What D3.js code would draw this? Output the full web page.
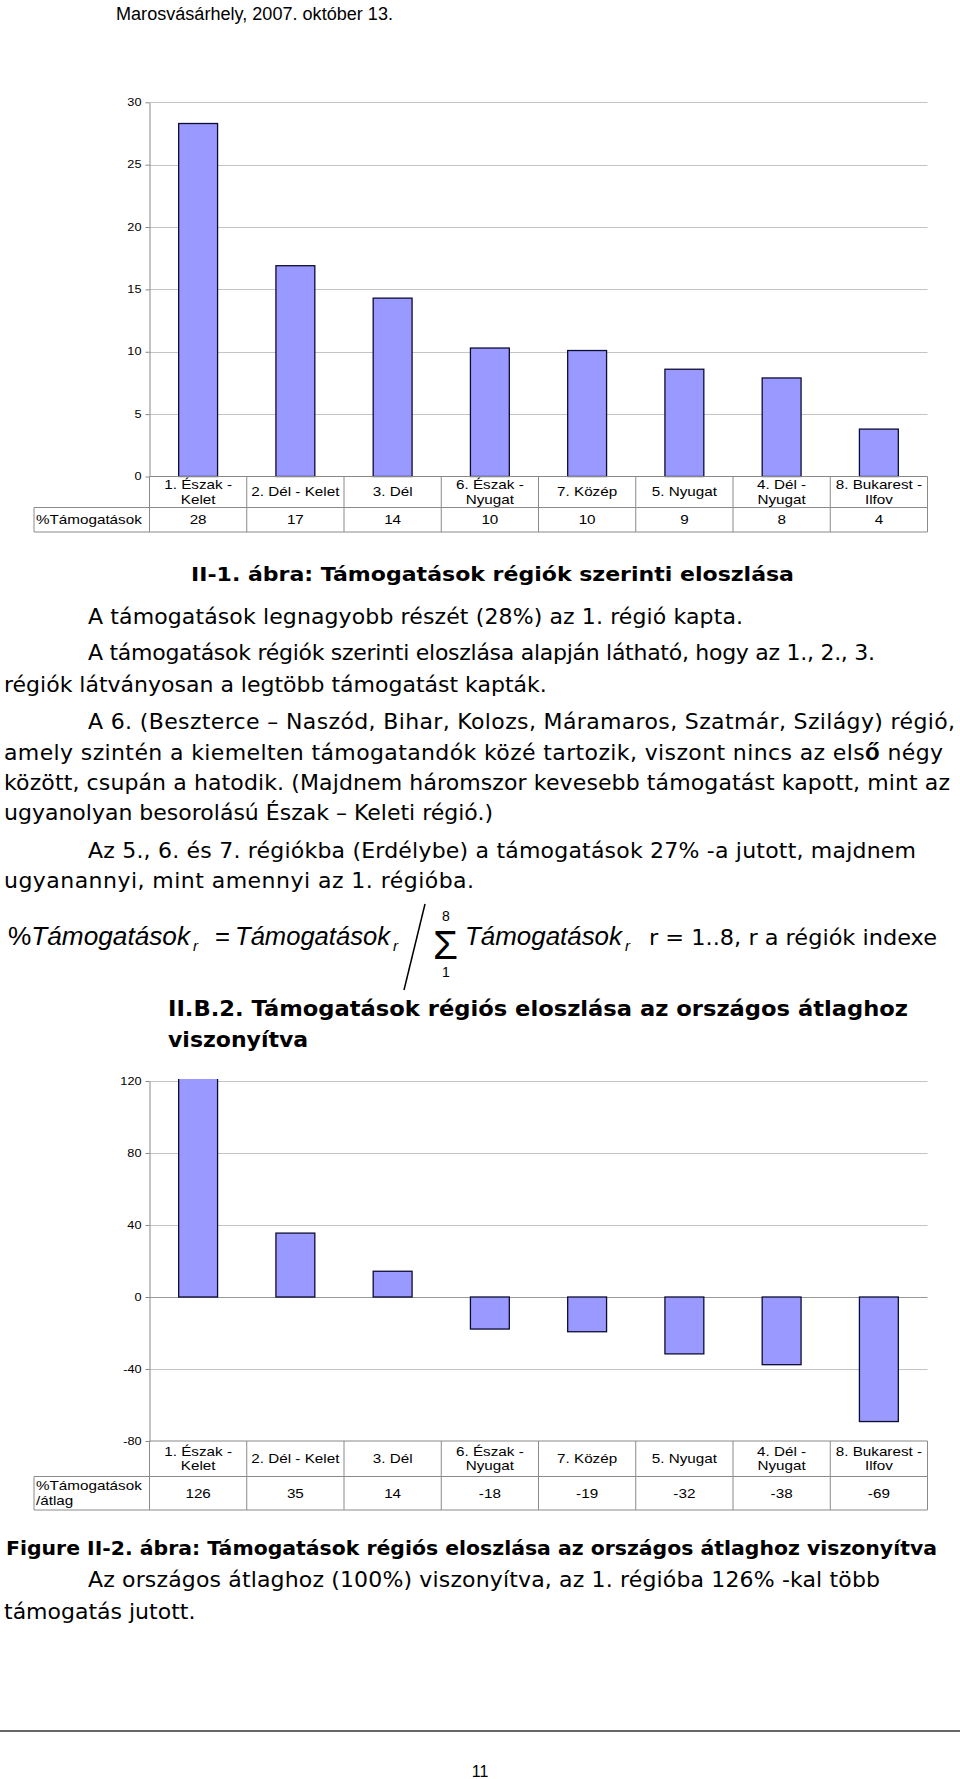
<!DOCTYPE html>
<html><head><meta charset="utf-8">
<script src="https://cdn.jsdelivr.net/npm/d3@7"></script>
<style>body{margin:0;background:#fff}svg{display:block}</style>
</head><body><div id="page"></div>
<script>
// ---------- data ----------
const categories = ["1. Észak - Kelet","2. Dél - Kelet","3. Dél","6. Észak - Nyugat","7. Közép","5. Nyugat","4. Dél - Nyugat","8. Bukarest - Ilfov"];
const categoryLines = [["1. Észak -","Kelet"],["2. Dél - Kelet"],["3. Dél"],["6. Észak -","Nyugat"],["7. Közép"],["5. Nyugat"],["4. Dél -","Nyugat"],["8. Bukarest -","Ilfov"]];
const shareValues = [28.3,16.9,14.3,10.3,10.1,8.6,7.9,3.8];
const shareLabels = ["28","17","14","10","10","9","8","4"];
const shareTicks = [0,5,10,15,20,25,30];
const shareSeries = ["%Támogatások"];
const relValues = [126,35.5,14.3,-17.8,-19.3,-31.6,-37.6,-69.2];
const relLabels = ["126","35","14","-18","-19","-32","-38","-69"];
const relTicks = [-80,-40,0,40,80,120];
const relSeries = ["%Támogatások","/átlag"];

// ---------- page ----------
const W = 960, H = 1779;
const svg = d3.select("#page").append("svg").attr("width", W).attr("height", H);
svg.append("rect").attr("width", W).attr("height", H).attr("fill", "#fff");

const SANS = "'Liberation Sans', Arial, sans-serif";
const BODY = "'DejaVu Sans', Verdana, sans-serif";
const STRETCH = 1.27;

function line(t, x, y, end, opts) {
  opts = opts || {};
  const el = svg.append("text").attr("x", x).attr("y", y)
    .attr("font-family", opts.family || BODY)
    .attr("font-size", opts.size || 22)
    .attr("font-weight", opts.weight || "normal")
    .attr("font-style", opts.italic ? "italic" : "normal")
    .attr("fill", "#000").text(t);
  if (end) el.attr("textLength", end - x).attr("lengthAdjust", opts.adjust || "spacingAndGlyphs");
  return el;
}
const SP = {adjust: "spacing"};

// header
line("Marosvásárhely, 2007. október 13.", 116, 20, 393, {family: SANS, size: 18});

// ---------- chart builder ----------
function drawChart(cfg) {
  const g = svg.append("g");
  const x = d3.scaleBand().domain(categories).range([149.5, 927.5]).paddingInner(0.6).paddingOuter(0.3);
  const step = x.step();
  const y = d3.scaleLinear().domain(cfg.domain).range(cfg.range);
  const axisY = y(cfg.domain[0]);

  // gridlines
  g.selectAll("line.grid").data(cfg.ticks.filter(t => t !== cfg.domain[0])).join("line")
    .attr("x1", 149.5).attr("x2", 927.5)
    .attr("y1", d => Math.round(y(d)) + 0.5).attr("y2", d => Math.round(y(d)) + 0.5)
    .attr("stroke", d => d === 0 ? "#999" : "#c4c4c4").attr("stroke-width", 1);

  // bars
  const clipId = "clip" + cfg.id;
  svg.append("clipPath").attr("id", clipId).append("rect")
    .attr("x", 0).attr("y", y(cfg.domain[1]) - 2).attr("width", W).attr("height", H);
  g.append("g").attr("clip-path", `url(#${clipId})`)
    .selectAll("rect").data(cfg.values).join("rect")
    .attr("x", (d, i) => x(categories[i]))
    .attr("width", x.bandwidth())
    .attr("y", d => Math.min(y(d), y(0)))
    .attr("height", d => Math.abs(y(d) - y(0)))
    .attr("fill", "#9999ff").attr("stroke", "#0d0d33").attr("stroke-width", 1.3);

  // y axis
  const ax = g.append("g").attr("transform", "translate(149.5,0)")
    .call(d3.axisLeft(y).tickValues(cfg.ticks).tickFormat(d => String(d)).tickSize(4).tickSizeOuter(0).tickPadding(4));
  ax.select(".domain").attr("stroke", "#888");
  ax.selectAll(".tick line").attr("stroke", "#888");
  ax.selectAll(".tick text").attr("font-family", SANS).attr("font-size", 10).attr("fill", "#000")
    .attr("transform", `translate(-8,0) scale(${STRETCH},1) translate(8,0)`);

  // table
  const rowTop = axisY, rowMid = axisY + cfg.catH, rowBot = rowMid + cfg.dataH;
  const tl = "#8a8a8a";
  g.append("line").attr("x1", 149.5).attr("x2", 927.5).attr("y1", rowTop).attr("y2", rowTop).attr("stroke", "#888");
  g.append("line").attr("x1", 34).attr("x2", 927.5).attr("y1", rowMid).attr("y2", rowMid).attr("stroke", tl);
  g.append("line").attr("x1", 34).attr("x2", 927.5).attr("y1", rowBot).attr("y2", rowBot).attr("stroke", tl);
  g.append("line").attr("x1", 34).attr("x2", 34).attr("y1", rowMid).attr("y2", rowBot).attr("stroke", tl);
  g.selectAll("line.col").data(d3.range(categories.length + 1)).join("line")
    .attr("x1", i => 149.5 + i * step).attr("x2", i => 149.5 + i * step)
    .attr("y1", rowTop).attr("y2", rowBot).attr("stroke", tl);

  function stext(t, cx, by, anchor) {
    return g.append("text").attr("transform", `translate(${cx},${by}) scale(${STRETCH},1)`)
      .attr("text-anchor", anchor || "middle").attr("font-family", SANS).attr("font-size", 12)
      .attr("fill", "#000").text(t);
  }
  categoryLines.forEach((ls, i) => {
    const cx = x(categories[i]) + x.bandwidth() / 2;
    const mid = (rowTop + rowMid) / 2;
    const lh = 14.5;
    ls.forEach((s, j) => stext(s, cx, mid + 4.3 + (j - (ls.length - 1) / 2) * lh));
    stext(cfg.labels[i], cx, (rowMid + rowBot) / 2 + 4.3);
  });
  const sl = cfg.series;
  sl.forEach((s, j) => stext(s, 36, (rowMid + rowBot) / 2 + 4.3 + (j - (sl.length - 1) / 2) * 14.5, "start"));
}

drawChart({id: 1, values: shareValues, labels: shareLabels, ticks: shareTicks, series: shareSeries,
  domain: [0, 30], range: [476.5, 102.3], catH: 31, dataH: 24.5});

// ---------- text block 1 ----------
line("II-1. ábra: Támogatások régiók szerinti eloszlása", 191, 581, 794, {weight: "bold", size: 19});
line("A támogatások legnagyobb részét (28%) az 1. régió kapta.", 88, 624, 743, SP);
line("A támogatások régiók szerinti eloszlása alapján látható, hogy az 1., 2., 3.", 88, 660, 875, SP);
line("régiók látványosan a legtöbb támogatást kapták.", 4, 692);
line("A 6. (Beszterce – Naszód, Bihar, Kolozs, Máramaros, Szatmár, Szilágy) régió,", 88, 729, 955, SP);
const l5 = line("amely szintén a kiemelten támogatandók közé tartozik, viszont nincs az els", 4, 760);
l5.append("tspan").attr("font-family", SANS).attr("font-weight", "bold").attr("font-size", 24).text("ő");
l5.append("tspan").text(" négy");
l5.attr("textLength", 939).attr("lengthAdjust", "spacing");
line("között, csupán a hatodik. (Majdnem háromszor kevesebb támogatást kapott, mint az", 4, 790, 950, SP);
line("ugyanolyan besorolású Észak – Keleti régió.)", 4, 820);
line("Az 5., 6. és 7. régiókba (Erdélybe) a támogatások 27% -a jutott, majdnem", 88, 858, 916, SP);
line("ugyanannyi, mint amennyi az 1. régióba.", 4, 888, 474, SP);

// ---------- formula ----------
const fy = 945;
const f1 = svg.append("text").attr("x", 8).attr("y", fy).attr("font-family", SANS).attr("font-size", 26)
  .attr("textLength", 182).attr("lengthAdjust", "spacingAndGlyphs");
f1.append("tspan").text("%");
f1.append("tspan").attr("font-style", "italic").text("Támogatások");
line("r", 193, fy + 6, null, {family: SANS, size: 15, italic: true});
line("=", 215, fy, 230, {family: SANS, size: 26});
line("Támogatások", 235, fy, 390, {family: SANS, size: 26, italic: true});
line("r", 393, fy + 6, null, {family: SANS, size: 15, italic: true});
svg.append("line").attr("x1", 425).attr("y1", 904).attr("x2", 404).attr("y2", 990).attr("stroke", "#000").attr("stroke-width", 1.5);
line("Σ", 433, 959, 458, {family: SANS, size: 40});
svg.append("text").attr("x", 446).attr("y", 921).attr("text-anchor", "middle").attr("font-family", SANS).attr("font-size", 14).text("8");
svg.append("text").attr("x", 446).attr("y", 977).attr("text-anchor", "middle").attr("font-family", SANS).attr("font-size", 14).text("1");
line("Támogatások", 465, fy, 622, {family: SANS, size: 26, italic: true});
line("r", 625, fy + 6, null, {family: SANS, size: 15, italic: true});
line("r = 1..8, r a régiók indexe", 649, fy, 937);

// ---------- second title ----------
line("II.B.2. Támogatások régiós eloszlása az országos átlaghoz", 168, 1016, 908, {weight: "bold", size: 22});
line("viszonyítva", 168, 1047, null, {weight: "bold", size: 22});

drawChart({id: 2, values: relValues, labels: relLabels, ticks: relTicks, series: relSeries,
  domain: [-80, 120], range: [1441, 1081], catH: 35.5, dataH: 33.5});

// ---------- text block 2 ----------
line("Figure II-2. ábra: Támogatások régiós eloszlása az országos átlaghoz viszonyítva", 6, 1555, 937, {weight: "bold", size: 19});
line("Az országos átlaghoz (100%) viszonyítva, az 1. régióba 126% -kal több", 88, 1587, 880, SP);
line("támogatás jutott.", 4, 1619);

// footer
svg.append("line").attr("x1", 0).attr("x2", W).attr("y1", 1731).attr("y2", 1731).attr("stroke", "#333").attr("stroke-width", 1.6);
svg.append("text").attr("x", 480).attr("y", 1777).attr("text-anchor", "middle").attr("font-family", SANS).attr("font-size", 16).text("11");
</script>
</body></html>
